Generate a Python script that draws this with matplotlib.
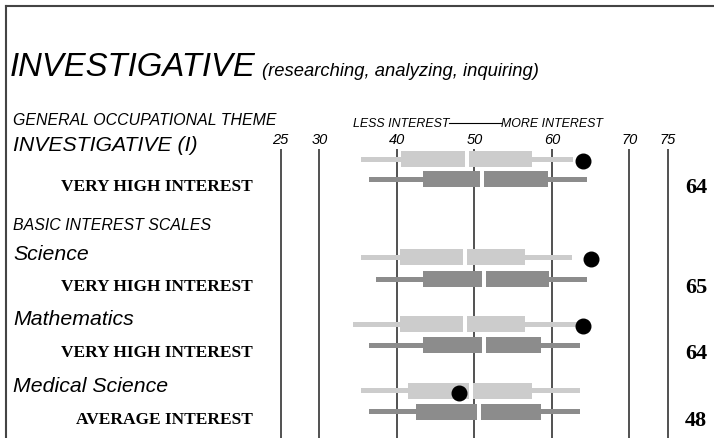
import numpy as np
import matplotlib.pyplot as plt

# scale names, scores and interest levels
scales = ['INVESTIGATIVE (I)', 'Science', 'Mathematics', 'Medical Science']
scores = [64, 65, 64, 48]
levels = ['VERY HIGH INTEREST', 'VERY HIGH INTEREST', 'VERY HIGH INTEREST', 'AVERAGE INTEREST']

# light bars: whisker low, box low, median, box high, whisker high
light_lo = [35.4, 35.4, 34.3, 35.4]
light_q1 = [40.5, 40.4, 40.4, 41.4]
light_med = [49.05, 48.8, 48.8, 49.6]
light_q3 = [57.5, 56.6, 56.6, 57.5]
light_hi = [62.7, 62.6, 63.6, 63.6]

# dark bars
dark_lo = [36.4, 37.3, 36.4, 36.4]
dark_q1 = [43.4, 43.4, 43.4, 42.5]
dark_med = [51.0, 51.25, 51.25, 50.6]
dark_q3 = [59.5, 59.6, 58.6, 58.6]
dark_hi = [64.6, 64.6, 63.6, 63.6]

ticks = [25, 30, 40, 50, 60, 70, 75]

W, H = 714, 439
fig = plt.figure(figsize=(W / 100, H / 100), dpi=100)
ax = fig.add_axes([0, 0, 1, 1])
ppu = 7.75  # pixels per score unit
ax.set_xlim(50 - 474.3 / ppu, 50 + (W - 474.3) / ppu)
ax.set_ylim(H, 0)
ax.axis('off')

sans = 'Liberation Sans'
serif = 'Liberation Serif'
lt = ax.get_yaxis_transform()  # x in axes fraction, y in pixels


def fx(px):
    return px / W


# frame
ax.plot([fx(5.5), 1], [6.5, 6.5], transform=lt, color='#444444', lw=1.5, clip_on=False)
ax.plot([fx(5.5), fx(5.5)], [6.5, H], transform=lt, color='#444444', lw=1.5, clip_on=False)

# title
ax.text(fx(10), 76, 'INVESTIGATIVE', transform=lt, family=sans, style='italic',
        fontsize=23.7, va='baseline', ha='left')
ax.text(fx(262), 76, '(researching, analyzing, inquiring)', transform=lt, family=sans,
        style='italic', fontsize=13.2, va='baseline', ha='left')

ax.text(fx(13), 121, 'GENERAL OCCUPATIONAL THEME', transform=lt, family=sans,
        style='italic', fontsize=11.4, va='center')
ax.text(fx(13), 226, 'BASIC INTEREST SCALES', transform=lt, family=sans,
        style='italic', fontsize=11.4, va='center')

ax.text(fx(449), 124, 'LESS INTEREST', transform=lt, family=sans, style='italic',
        fontsize=8.9, va='center', ha='right')
ax.text(fx(501), 124, 'MORE INTEREST', transform=lt, family=sans, style='italic',
        fontsize=8.9, va='center', ha='left')
ax.plot([fx(449), fx(501)], [124, 124], transform=lt, color='black', lw=0.8)

# scale grid
ax.vlines(ticks, 150, H, color='#222222', lw=1.1, zorder=1)
for t in ticks:
    ax.text(t, 140, str(t), family=sans, style='italic', fontsize=10.5,
            ha='center', va='center')

label_y = [146, 255, 320, 387]
light_y = [160, 258, 325, 392]
dark_y = [180, 280, 346, 413]
gap = 0.28
box_h, wh_h = 16, 5


def draw_bar(y, lo, q1, med, q3, hi, color):
    ax.barh(y, hi - lo, left=lo, height=wh_h, color=color, zorder=2)
    ax.barh(y, (med - gap) - q1, left=q1, height=box_h, color=color, zorder=3)
    ax.barh(y, q3 - (med + gap), left=med + gap, height=box_h, color=color, zorder=3)
    # clear the median gap over the whisker
    ax.barh(y, 2 * gap, left=med - gap, height=box_h, color='white', zorder=2.5)


for i in range(len(scales)):
    ax.text(fx(13), label_y[i], scales[i], transform=lt, family=sans, style='italic',
            fontsize=15.3, va='center')
    ax.text(fx(253), dark_y[i] + 7, levels[i], transform=lt, family=serif,
            weight='bold', fontsize=12.5, va='center', ha='right')
    ax.text(fx(696), dark_y[i] + 8, str(scores[i]), transform=lt, family=serif,
            weight='bold', fontsize=16, va='center', ha='center')
    draw_bar(light_y[i], light_lo[i], light_q1[i], light_med[i], light_q3[i],
             light_hi[i], '#cccccc')
    draw_bar(dark_y[i], dark_lo[i], dark_q1[i], dark_med[i], dark_q3[i],
             dark_hi[i], '#8c8c8c')
    ax.plot(scores[i], light_y[i] + 2, 'o', ms=10.5, color='black', zorder=5)

fig.savefig('out.png', dpi=100)
